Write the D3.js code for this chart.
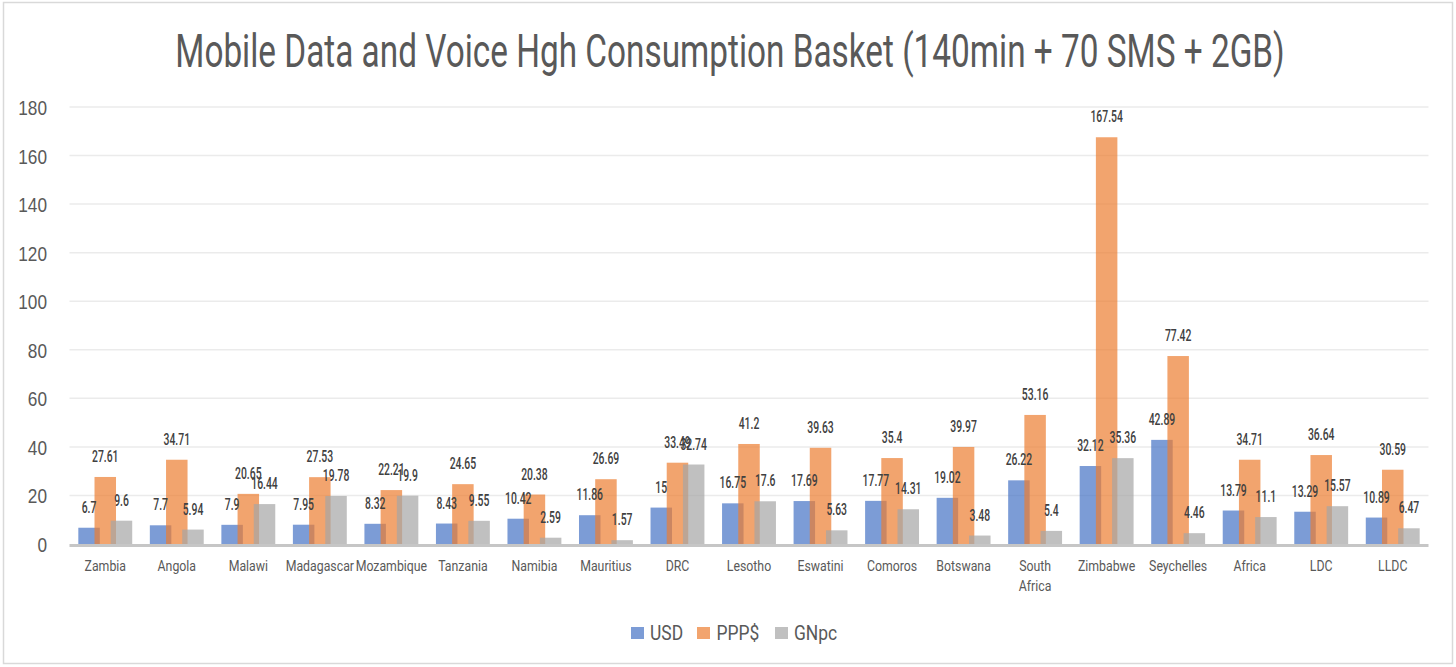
<!DOCTYPE html>
<html>
<head>
<meta charset="utf-8">
<script src="https://cdn.jsdelivr.net/npm/d3@7"></script>
<style>
  html, body { margin: 0; padding: 0; background: #fff; }
  svg { display: block; font-family: Roboto, "Noto Sans", sans-serif; }
</style>
</head>
<body>
<svg id="chart" width="1456" height="667"></svg>
<script>
const categories = ["Zambia","Angola","Malawi","Madagascar","Mozambique","Tanzania","Namibia","Mauritius","DRC","Lesotho","Eswatini","Comoros","Botswana","South Africa","Zimbabwe","Seychelles","Africa","LDC","LLDC"];
const usd  = [6.7,7.7,7.9,7.95,8.32,8.43,10.42,11.86,15,16.75,17.69,17.77,19.02,26.22,32.12,42.89,13.79,13.29,10.89];
const ppp  = [27.61,34.71,20.65,27.53,22.21,24.65,20.38,26.69,33.49,41.2,39.63,35.4,39.97,53.16,167.54,77.42,34.71,36.64,30.59];
const gnpc = [9.6,5.94,16.44,19.78,19.9,9.55,2.59,1.57,32.74,17.6,5.63,14.31,3.48,5.4,35.36,4.46,11.1,15.57,6.47];
const seriesNames = ["USD","PPP$","GNpc"];
const yTicks = [0,20,40,60,80,100,120,140,160,180];
const title = "Mobile Data and Voice Hgh Consumption Basket (140min + 70 SMS + 2GB)";

const series = [
  {name: seriesNames[0], values: usd,  color: "#4472C4"},
  {name: seriesNames[1], values: ppp,  color: "#ED7D31"},
  {name: seriesNames[2], values: gnpc, color: "#A5A5A5"}
];

const svg = d3.select("#chart");

// chart border
svg.append("rect").attr("x",3.5).attr("y",2.5).attr("width",1449).attr("height",661)
  .attr("fill","none").attr("stroke","#D9D9D9").attr("stroke-width",1.5);

const x = d3.scaleBand().domain(categories).range([69.5, 1428.5]);
const y = d3.scaleLinear().domain([0,180]).range([544,107]);
const barW = 21.5, step = 16.2;

// helper for horizontally condensed text
function ctext(parent, px, py, str, o) {
  const g = parent.append("g").attr("transform", `translate(${px},${py}) scale(${o.sx},1)`);
  return g.append("text").attr("x",0).attr("y",0)
    .attr("text-anchor", o.anchor || "middle")
    .attr("font-size", o.size).attr("fill", o.color)
    .attr("font-weight", o.weight || 400)
    .text(str);
}

// title: condensed to span the same width as the reference
const tg = svg.append("g");
const tt = tg.append("text").attr("x",0).attr("y",0).attr("text-anchor","middle")
  .attr("font-size",46).attr("fill","#595959").text(title);
const natural = tt.node().getComputedTextLength();
tg.attr("transform", `translate(730,67) scale(${1110/natural},1)`);

// gridlines
svg.append("g").selectAll("line").data(yTicks.filter(d => d > 0)).join("line")
  .attr("x1",69.5).attr("x2",1428.5).attr("y1",d => y(d)).attr("y2",d => y(d))
  .attr("stroke","#EBEBEB").attr("stroke-width",1.5);

// y axis labels
const yAxis = d3.axisLeft(y).tickValues(yTicks).tickSize(0).tickPadding(0);
const yg = svg.append("g").attr("transform","translate(47,0)").call(yAxis);
yg.select(".domain").remove();
yg.selectAll(".tick text").remove();
yg.selectAll(".tick").each(function(d) {
  ctext(d3.select(this), 0, 7.5, String(d), {sx:0.82, size:21, color:"#595959", anchor:"end"});
});

// bars
const barsG = svg.append("g");
series.forEach((s, si) => {
  barsG.append("g").selectAll("rect").data(s.values).join("rect")
    .attr("x", (d,i) => x(categories[i]) + x.bandwidth()/2 + (si-1)*step - barW/2)
    .attr("width", barW)
    .attr("y", d => y(d))
    .attr("height", d => y(0) - y(d))
    .attr("fill", s.color).attr("fill-opacity", 0.7);
});

// baseline
svg.append("line").attr("x1",69.5).attr("x2",1428.5).attr("y1",545.5).attr("y2",545.5)
  .attr("stroke","#C6C6C6").attr("stroke-width",3);

// value labels
const labG = svg.append("g");
series.forEach((s, si) => {
  s.values.forEach((v, i) => {
    const cx = x(categories[i]) + x.bandwidth()/2 + (si-1)*step;
    ctext(labG, cx, y(v) - 15, String(v), {sx:0.63, size:16.5, color:"#404040", weight:500});
  });
});

// category labels
const catG = svg.append("g");
categories.forEach(c => {
  const cx = x(c) + x.bandwidth()/2;
  const words = c === "South Africa" ? ["South","Africa"] : [c];
  words.forEach((w, k) => {
    ctext(catG, cx, 570.5 + k*20, w, {sx:0.88, size:14, color:"#595959"});
  });
});

// legend
const legendPos = [{sq:631, tx:650}, {sq:697, tx:716.5}, {sq:775, tx:794}];
const lg = svg.append("g");
series.forEach((s, si) => {
  lg.append("rect").attr("x", legendPos[si].sq).attr("y",627).attr("width",13).attr("height",12)
    .attr("fill", s.color).attr("fill-opacity",0.7);
  ctext(lg, legendPos[si].tx, 640, s.name, {sx:0.83, size:21, color:"#595959", anchor:"start"});
});
</script>
</body>
</html>
